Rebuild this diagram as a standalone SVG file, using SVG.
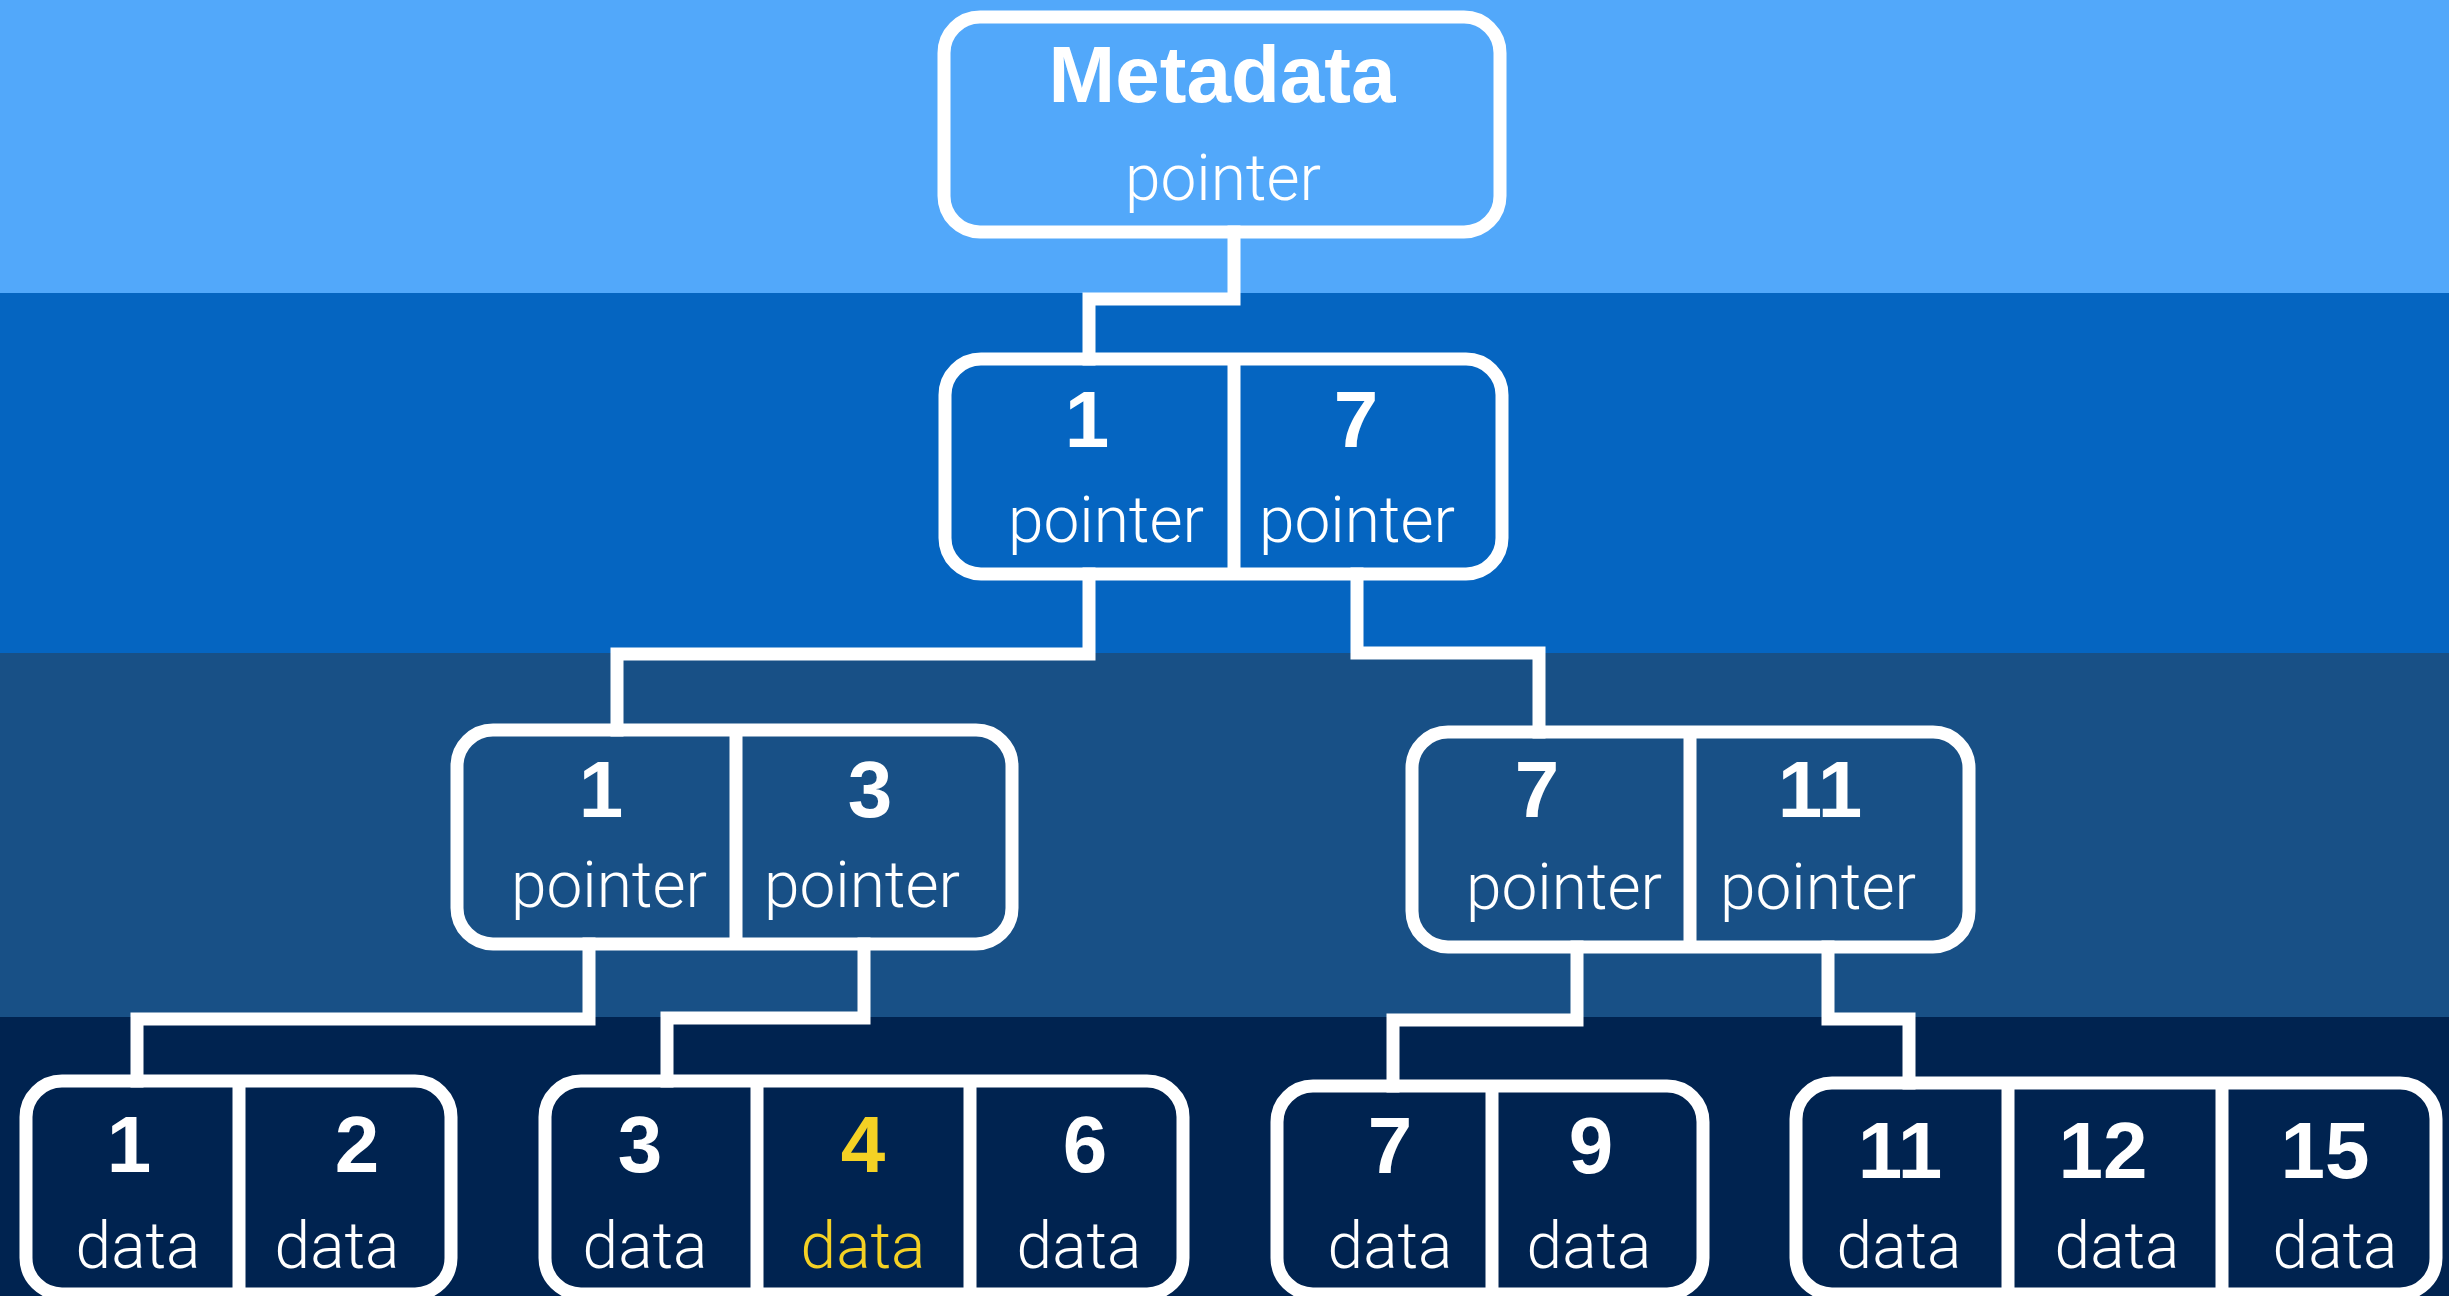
<svg xmlns="http://www.w3.org/2000/svg" width="2449" height="1296" viewBox="0 0 2449 1296">
<style>
.box{fill:none;stroke:#fff;stroke-width:13}
.div{stroke:#fff;stroke-width:13}
.conn{fill:none;stroke:#fff;stroke-width:13;stroke-linejoin:miter;stroke-linecap:square}
.num{font-family:"Liberation Sans",Arial,sans-serif;font-weight:bold;font-size:80px;fill:#fff;text-anchor:middle}
.lbl{font-family:Roboto,"Liberation Sans",Arial,sans-serif;font-weight:300;font-size:64px;fill:#fff;text-anchor:middle}
.hl{fill:#F4D124}
</style>
<g id="bands">
<rect x="0" y="0" width="2449" height="293" fill="#52A8FA"/>
<rect x="0" y="293" width="2449" height="360" fill="#0565C1"/>
<rect x="0" y="653" width="2449" height="364" fill="#185086"/>
<rect x="0" y="1017" width="2449" height="279" fill="#002350"/>
</g>
<g id="connectors">
<polyline class="conn" points="1234,232 1234,299 1089,299 1089,359"/>
<polyline class="conn" points="1089,574 1089,654 617,654 617,730"/>
<polyline class="conn" points="1357,574 1357,653 1539,653 1539,732"/>
<polyline class="conn" points="589,944 589,1019 137,1019 137,1081"/>
<polyline class="conn" points="864,944 864,1018 667,1018 667,1081"/>
<polyline class="conn" points="1577,947 1577,1020 1393,1020 1393,1086"/>
<polyline class="conn" points="1828,947 1828,1019 1909,1019 1909,1083"/>
</g>
<g id="metadata">
<rect class="box" x="944" y="17" width="556" height="215" rx="36"/>
<text class="num" x="1222" y="102">Metadata</text>
<text class="lbl" x="1223" y="200">pointer</text>
</g>
<g id="root">
<rect class="box" x="945" y="359" width="557" height="215" rx="36"/>
<line class="div" x1="1234" y1="359" x2="1234" y2="574"/>
<text class="num" x="1087" y="447">1</text>
<text class="num" x="1356" y="447">7</text>
<text class="lbl" x="1106" y="542">pointer</text>
<text class="lbl" x="1357" y="542">pointer</text>
</g>
<g id="inner-left">
<rect class="box" x="457" y="730" width="555" height="214" rx="36"/>
<line class="div" x1="736" y1="730" x2="736" y2="944"/>
<text class="num" x="601" y="817">1</text>
<text class="num" x="870" y="817">3</text>
<text class="lbl" x="609" y="907">pointer</text>
<text class="lbl" x="862" y="907">pointer</text>
</g>
<g id="inner-right">
<rect class="box" x="1412" y="732" width="557" height="215" rx="36"/>
<line class="div" x1="1690" y1="732" x2="1690" y2="947"/>
<text class="num" x="1537" y="817">7</text>
<text class="num" x="1820" y="817">11</text>
<text class="lbl" x="1564" y="909">pointer</text>
<text class="lbl" x="1818" y="909">pointer</text>
</g>
<g id="leaf-a">
<rect class="box" x="26" y="1081" width="425" height="213" rx="36"/>
<line class="div" x1="239" y1="1081" x2="239" y2="1294"/>
<text class="num" x="129" y="1172">1</text>
<text class="num" x="357" y="1172">2</text>
<text class="lbl" x="138" y="1268">data</text>
<text class="lbl" x="337" y="1268">data</text>
</g>
<g id="leaf-b">
<rect class="box" x="545" y="1081" width="638" height="213" rx="36"/>
<line class="div" x1="757" y1="1081" x2="757" y2="1294"/>
<line class="div" x1="970" y1="1081" x2="970" y2="1294"/>
<text class="num" x="640" y="1172">3</text>
<text class="num hl" x="863" y="1172">4</text>
<text class="num" x="1085" y="1172">6</text>
<text class="lbl" x="645" y="1268">data</text>
<text class="lbl hl" x="863" y="1268">data</text>
<text class="lbl" x="1079" y="1268">data</text>
</g>
<g id="leaf-c">
<rect class="box" x="1277" y="1086" width="426" height="208" rx="36"/>
<line class="div" x1="1492" y1="1086" x2="1492" y2="1294"/>
<text class="num" x="1390" y="1173">7</text>
<text class="num" x="1591" y="1173">9</text>
<text class="lbl" x="1390" y="1268">data</text>
<text class="lbl" x="1589" y="1268">data</text>
</g>
<g id="leaf-d">
<rect class="box" x="1796" y="1083" width="640" height="211" rx="36"/>
<line class="div" x1="2008" y1="1083" x2="2008" y2="1294"/>
<line class="div" x1="2222" y1="1083" x2="2222" y2="1294"/>
<text class="num" x="1900" y="1178">11</text>
<text class="num" x="2103" y="1178">12</text>
<text class="num" x="2325" y="1178">15</text>
<text class="lbl" x="1899" y="1268">data</text>
<text class="lbl" x="2117" y="1268">data</text>
<text class="lbl" x="2335" y="1268">data</text>
</g>
</svg>
